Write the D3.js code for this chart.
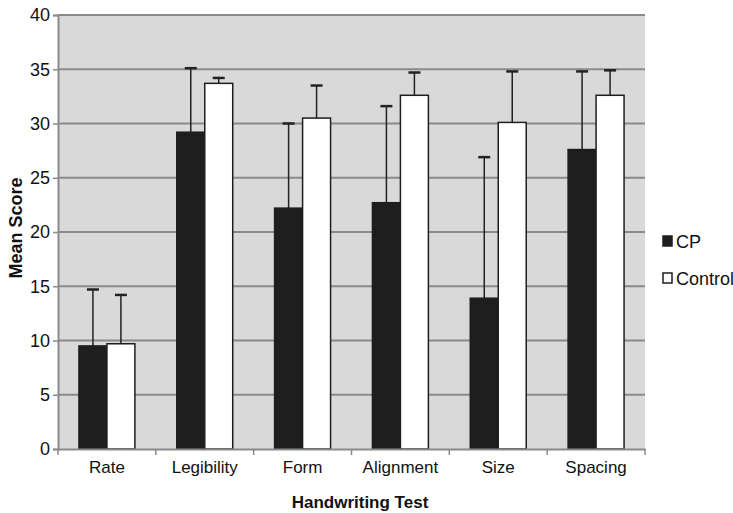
<!DOCTYPE html>
<html>
<head>
<meta charset="utf-8">
<script src="https://cdn.jsdelivr.net/npm/d3@7"></script>
<style>
  body { margin: 0; background: #fff; overflow: hidden; }
  text { font-family: "Liberation Sans", Arial, sans-serif; fill: #111; }
</style>
</head>
<body>
<script>
var categories = ['Rate', 'Legibility', 'Form', 'Alignment', 'Size', 'Spacing'];
var seriesNames = ['CP', 'Control'];
var cpMeans = [9.5, 29.2, 22.2, 22.7, 13.9, 27.6];
var cpErrTop = [14.7, 35.1, 30.0, 31.6, 26.9, 34.8];
var controlMeans = [9.7, 33.7, 30.5, 32.6, 30.1, 32.6];
var controlErrTop = [14.2, 34.2, 33.5, 34.7, 34.8, 34.9];
var yTicks = [0, 5, 10, 15, 20, 25, 30, 35, 40];
var fills = ['#1e1e1e', '#ffffff'];

var svgWidth = 733, svgHeight = 513;
// plot box (note: "top" is taken by window.top, so use other names)
var plotLeft = 58, plotRight = 645, plotTop = 15, plotBottom = 449;

var svg = d3.select('body').append('svg')
  .attr('width', svgWidth).attr('height', svgHeight);

var x = d3.scaleBand().domain(categories).range([plotLeft, plotRight]);
var y = d3.scaleLinear().domain([0, 40]).range([plotBottom, plotTop]);

var bw = x.bandwidth() * 0.286;

// plot background
svg.append('rect')
  .attr('x', plotLeft).attr('y', plotTop)
  .attr('width', plotRight - plotLeft).attr('height', plotBottom - plotTop)
  .attr('fill', '#d9d9d9');

// gridlines
svg.selectAll('.grid')
  .data(yTicks.filter(function (d) { return d > 0; }))
  .enter().append('line')
  .attr('x1', plotLeft).attr('x2', plotRight)
  .attr('y1', function (d) { return y(d); })
  .attr('y2', function (d) { return y(d); })
  .attr('stroke', '#8a8a8a').attr('stroke-width', 2);

// bars + error bars
var data = [];
categories.forEach(function (c, i) {
  data.push({cat: c, s: 0, v: cpMeans[i], e: cpErrTop[i]});
  data.push({cat: c, s: 1, v: controlMeans[i], e: controlErrTop[i]});
});

function barX(d) {
  return x(d.cat) + x.bandwidth() / 2 - bw + d.s * bw;
}

svg.selectAll('.err')
  .data(data).enter().append('line')
  .attr('x1', function (d) { return barX(d) + bw / 2; })
  .attr('x2', function (d) { return barX(d) + bw / 2; })
  .attr('y1', function (d) { return y(d.v); })
  .attr('y2', function (d) { return y(d.e); })
  .attr('stroke', '#222').attr('stroke-width', 1.5);

svg.selectAll('.cap')
  .data(data).enter().append('line')
  .attr('x1', function (d) { return barX(d) + bw / 2 - 6; })
  .attr('x2', function (d) { return barX(d) + bw / 2 + 6; })
  .attr('y1', function (d) { return y(d.e); })
  .attr('y2', function (d) { return y(d.e); })
  .attr('stroke', '#222').attr('stroke-width', 2.5);

svg.selectAll('.bar')
  .data(data).enter().append('rect')
  .attr('x', barX)
  .attr('y', function (d) { return y(d.v); })
  .attr('width', bw)
  .attr('height', function (d) { return y(0) - y(d.v); })
  .attr('fill', function (d) { return fills[d.s]; })
  .attr('stroke', '#1e1e1e').attr('stroke-width', 1.5);

// y axis
var yAxis = svg.append('g')
  .attr('transform', 'translate(' + plotLeft + ',0)')
  .call(d3.axisLeft(y).tickValues(yTicks).tickSize(5).tickPadding(3));
yAxis.select('.domain').attr('stroke', '#8a8a8a').attr('stroke-width', 2);
yAxis.selectAll('.tick line').attr('stroke', '#8a8a8a').attr('stroke-width', 1.5);
yAxis.selectAll('.tick text').style('font-size', '18px').attr('fill', '#111');

// x axis
var xAxis = svg.append('g')
  .attr('transform', 'translate(0,' + plotBottom + ')')
  .call(d3.axisBottom(x).tickSize(0).tickPadding(12));
xAxis.select('.domain').attr('stroke', '#8a8a8a').attr('stroke-width', 2);
xAxis.selectAll('.tick text').style('font-size', '17px').attr('fill', '#111');

var bounds = categories.map(function (c) { return x(c); }).concat([plotRight]);
svg.selectAll('.xtick')
  .data(bounds).enter().append('line')
  .attr('x1', function (d) { return d; }).attr('x2', function (d) { return d; })
  .attr('y1', plotBottom).attr('y2', plotBottom + 6)
  .attr('stroke', '#8a8a8a').attr('stroke-width', 1.5);

// axis titles
svg.append('text')
  .attr('transform', 'translate(22,228) rotate(-90)')
  .attr('text-anchor', 'middle')
  .style('font-size', '18px').style('font-weight', 'bold')
  .text('Mean Score');

svg.append('text')
  .attr('x', 360).attr('y', 508)
  .attr('text-anchor', 'middle')
  .style('font-size', '17px').style('font-weight', 'bold')
  .text('Handwriting Test');

// legend
var legend = svg.selectAll('.legend')
  .data(seriesNames).enter().append('g')
  .attr('transform', function (d, i) { return 'translate(663,' + (241 + i * 37) + ')'; });
legend.append('rect')
  .attr('x', 0).attr('y', -5).attr('width', 9).attr('height', 10)
  .attr('fill', function (d, i) { return fills[i]; })
  .attr('stroke', '#1e1e1e').attr('stroke-width', 1.5);
legend.append('text')
  .attr('x', 13).attr('y', 7)
  .style('font-size', '18px')
  .text(function (d) { return d; });
</script>
</body>
</html>
